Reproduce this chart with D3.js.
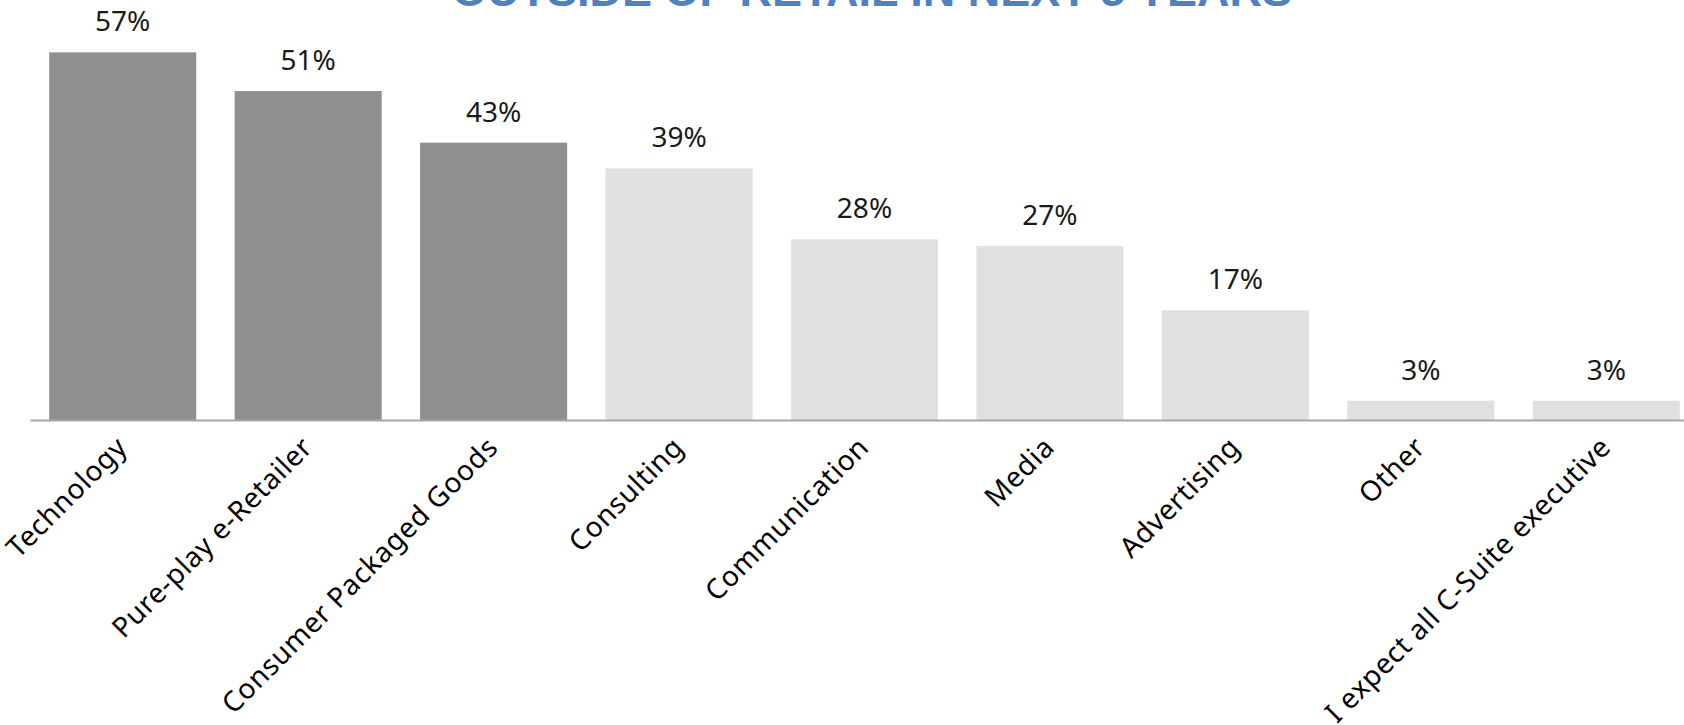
<!DOCTYPE html>
<html>
<head>
<meta charset="utf-8">
<script src="https://cdn.jsdelivr.net/npm/d3@7"></script>
<style>
  html, body { margin: 0; padding: 0; background: #ffffff; overflow: hidden; }
  svg { display: block; }
</style>
</head>
<body>
<svg id="chart" width="1684" height="725"></svg>
<script>
// Sectors expected to supply retail C-suite talent
const categories = [
  "Technology",
  "Pure-play e-Retailer",
  "Consumer Packaged Goods",
  "Consulting",
  "Communication",
  "Media",
  "Advertising",
  "Other",
  "I expect all C-Suite executive"
];
const shares = [57, 51, 43, 39, 28, 27, 17, 3, 3];
const highlighted = [true, true, true, false, false, false, false, false, false];
const titleText = "OUTSIDE OF RETAIL IN NEXT 5 YEARS";

const svg = d3.select("#chart");
const baseY = 420;

const x = d3.scaleBand()
  .domain(categories)
  .range([30, 1699])
  .paddingInner(0.207)
  .paddingOuter(0.1035);

const y = d3.scaleLinear()
  .domain([0, 60])
  .range([baseY, baseY - 387]);

// Title (bottom line of a heading running off the top edge)
svg.append("text")
  .attr("x", 872)
  .attr("y", 5.5)
  .attr("text-anchor", "middle")
  .attr("font-family", "'Liberation Sans', Arial, sans-serif")
  .attr("font-weight", "bold")
  .attr("font-size", 45)
  .attr("fill", "#4f81bd")
  .text(titleText);

const data = categories.map((c, i) => ({ c, v: shares[i], hi: highlighted[i] }));

// Bars
svg.append("g").selectAll("rect")
  .data(data)
  .join("rect")
  .attr("x", d => x(d.c))
  .attr("y", d => y(d.v))
  .attr("width", x.bandwidth())
  .attr("height", d => y(0) - y(d.v))
  .attr("fill", d => d.hi ? "#8f8f8f" : "#e0e0e0");

// Value labels
svg.append("g").selectAll("text")
  .data(data)
  .join("text")
  .attr("x", d => x(d.c) + x.bandwidth() / 2)
  .attr("y", d => y(d.v) - 21)
  .attr("text-anchor", "middle")
  .attr("font-family", "'Noto Sans', sans-serif")
  .attr("font-size", 28)
  .attr("fill", "#1a1a1a")
  .text(d => d.v + "%");

// Category axis
const xAxis = d3.axisBottom(x).tickSize(0).tickPadding(0);
const gx = svg.append("g")
  .attr("transform", `translate(0,${baseY})`)
  .call(xAxis);
gx.select(".domain")
  .attr("stroke", "#a6a6a6")
  .attr("stroke-width", 2);
gx.selectAll(".tick text")
  .attr("font-family", "'Noto Sans', sans-serif")
  .attr("font-size", 28)
  .attr("letter-spacing", "0.6px")
  .attr("fill", "#000000")
  .attr("text-anchor", "end")
  .attr("dy", 0)
  .attr("y", 0)
  .attr("transform", "translate(6,29) rotate(-45)");
</script>
</body>
</html>
